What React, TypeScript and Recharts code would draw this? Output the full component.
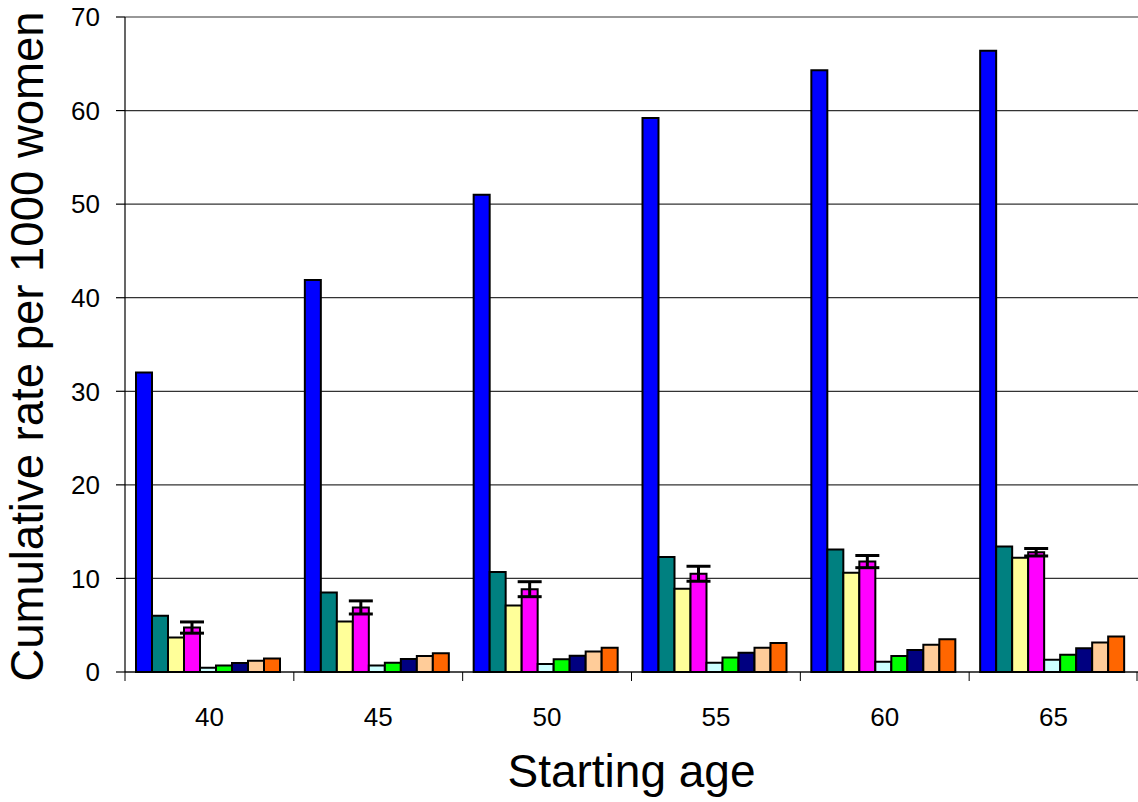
import React from 'react';
import { BarChart, Bar, XAxis, YAxis, CartesianGrid, ErrorBar, Label } from 'recharts';

const categories = ['40', '45', '50', '55', '60', '65'];
const blueValues = [32.0, 41.9, 51.0, 59.2, 64.3, 66.4];
const tealValues = [6.0, 8.5, 10.7, 12.3, 13.1, 13.4];
const yellowValues = [3.7, 5.4, 7.1, 8.9, 10.6, 12.2];
const magentaValues = [4.75, 6.9, 8.85, 10.5, 11.8, 12.8];
const magentaErrors = [0.6, 0.7, 0.8, 0.8, 0.65, 0.4];
const cyanValues = [0.45, 0.7, 0.85, 1.0, 1.1, 1.3];
const greenValues = [0.7, 1.0, 1.35, 1.55, 1.7, 1.85];
const navyValues = [0.95, 1.4, 1.75, 2.05, 2.35, 2.55];
const peachValues = [1.2, 1.7, 2.2, 2.6, 2.9, 3.15];
const orangeValues = [1.45, 2.0, 2.6, 3.1, 3.5, 3.8];
const yTicks = [0, 10, 20, 30, 40, 50, 60, 70];

const seriesDefs = [
  { key: 'blue', color: '#0000FF', values: blueValues },
  { key: 'teal', color: '#008080', values: tealValues },
  { key: 'yellow', color: '#FFFF99', values: yellowValues },
  { key: 'magenta', color: '#FF00FF', values: magentaValues },
  { key: 'cyan', color: '#CCFFFF', values: cyanValues },
  { key: 'green', color: '#00FF00', values: greenValues },
  { key: 'navy', color: '#000080', values: navyValues },
  { key: 'peach', color: '#FFCC99', values: peachValues },
  { key: 'orange', color: '#FF6600', values: orangeValues },
];

const data = categories.map((c, i) => {
  const row: any = { age: c, magentaErr: magentaErrors[i] };
  seriesDefs.forEach((s) => {
    row[s.key] = s.values[i];
  });
  return row;
});

const FONT = 'Liberation Sans, Arial, sans-serif';

const XTick = (props: any) => {
  const { x, y, payload, index, visibleTicksCount } = props;
  const half = payload && payload.offset ? payload.offset : 0;
  const isLast = index === (visibleTicksCount || categories.length) - 1;
  return (
    <g>
      <line x1={x - half} y1={y - 8} x2={x - half} y2={y + 1} stroke="#000" strokeWidth={1} />
      {isLast && <line x1={x + half - 1} y1={y - 8} x2={x + half - 1} y2={y + 1} stroke="#000" strokeWidth={1} />}
      <text x={x} y={y + 46} textAnchor="middle" fontFamily={FONT} fontSize={26} fill="#000">
        {payload.value}
      </text>
    </g>
  );
};

const YTitle = (props: any) => {
  const vb = props.viewBox || { x: 0, y: 17, width: 125, height: 655 };
  const cy = vb.y + vb.height / 2 + 2;
  const cx = 43;
  return (
    <text
      x={cx}
      y={cy}
      transform={`rotate(-90, ${cx}, ${cy})`}
      textAnchor="middle"
      fontFamily={FONT}
      fontSize={45.5}
      fill="#000"
    >
      Cumulative rate per 1000 women
    </text>
  );
};

const XTitle = (props: any) => {
  const vb = props.viewBox || { x: 125, y: 672, width: 1013, height: 130 };
  const cx = vb.x + vb.width / 2;
  return (
    <text x={cx} y={787} textAnchor="middle" fontFamily={FONT} fontSize={46} fill="#000">
      Starting age
    </text>
  );
};

export default function App() {
  return (
    <div style={{ position: 'absolute', left: 0, top: 0, width: 1138, height: 802, background: '#fff' }}>
      <BarChart
        width={1138}
        height={802}
        data={data}
        margin={{ top: 17, right: 0, left: 0, bottom: 0 }}
        barCategoryGap={11}
        barGap={0}
      >
        <CartesianGrid vertical={false} stroke="#333" strokeWidth={1.2} />
        <XAxis
          dataKey="age"
          height={130}
          axisLine={{ stroke: '#000', strokeWidth: 1.2 }}
          tickLine={false}
          tick={<XTick />}
          interval={0}
        >
          <Label content={<XTitle />} />
        </XAxis>
        <YAxis
          width={125}
          domain={[0, 70]}
          ticks={yTicks}
          interval={0}
          tickSize={9}
          tickMargin={16}
          axisLine={{ stroke: '#000', strokeWidth: 1.2 }}
          tickLine={{ stroke: '#000', strokeWidth: 1.2 }}
          tick={{ fontFamily: FONT, fontSize: 26, fill: '#000' }}
        >
          <Label content={<YTitle />} />
        </YAxis>
        {seriesDefs.map((s) => (
          <Bar
            key={s.key}
            dataKey={s.key}
            fill={s.color}
            stroke="#000"
            strokeWidth={2}
            isAnimationActive={false}
          >
            {s.key === 'magenta' && (
              <ErrorBar dataKey="magentaErr" width={12} strokeWidth={3} stroke="#000" direction="y" />
            )}
          </Bar>
        ))}
      </BarChart>
    </div>
  );
}
